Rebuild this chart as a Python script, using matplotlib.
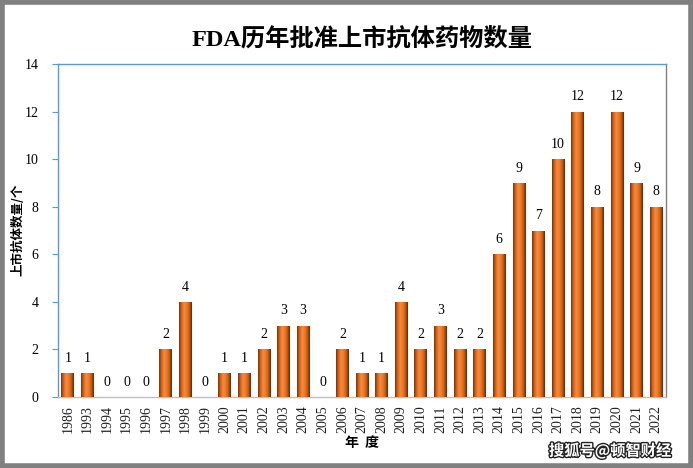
import matplotlib
matplotlib.use("Agg")
import matplotlib.pyplot as plt
import numpy as np
from matplotlib.colors import LinearSegmentedColormap
from matplotlib.patches import Rectangle
import matplotlib.patheffects as pe

years = ["1986", "1993", "1994", "1995", "1996", "1997", "1998", "1999", "2000", "2001",
         "2002", "2003", "2004", "2005", "2006", "2007", "2008", "2009", "2010", "2011",
         "2012", "2013", "2014", "2015", "2016", "2017", "2018", "2019", "2020", "2021", "2022"]
counts = [1, 1, 0, 0, 0, 2, 4, 0, 1, 1,
          2, 3, 3, 0, 2, 1, 1, 4, 2, 3,
          2, 2, 6, 9, 7, 10, 12, 8, 12, 9, 8]
yticks = [0, 2, 4, 6, 8, 10, 12, 14]

serif = ['Liberation Serif', 'Noto Sans CJK SC']
cjk = ['Noto Sans CJK SC', 'DejaVu Sans']

fig = plt.figure(figsize=(6.93, 4.68), dpi=100)
ax = fig.add_axes([58/693, 1-397/468, (666-58)/693, (397-64)/468])

x = np.arange(len(years))
bars = ax.bar(x, counts, width=0.65, color='#e07020', edgecolor='none', zorder=2)

cmap = LinearSegmentedColormap.from_list('bar', ['#7a3508', '#d8641c', '#f68c3c', '#ee7a28', '#c85c14', '#62290a'])
grad = np.linspace(0, 1, 64).reshape(1, -1)
for b in bars:
    h = b.get_height()
    if h <= 0:
        continue
    x0 = b.get_x()
    w = b.get_width()
    im = ax.imshow(grad, extent=[x0, x0 + w, 0, h], aspect='auto', cmap=cmap,
                   zorder=3, interpolation='bilinear')
    im.set_clip_path(b)

for xi, v in zip(x, counts):
    ax.text(xi, v + 0.35, str(v), ha='center', va='bottom', fontsize=10,
            family=serif, color='black', zorder=4)

ax.set_xlim(-0.5, len(years) - 0.5)
ax.set_ylim(0, 14)
ax.set_yticks(yticks)
ax.set_yticklabels([str(t) for t in yticks], family=serif, fontsize=10)
ax.set_xticks(x)
ax.set_xticklabels(years, rotation=90, family=serif, fontsize=10, color='#202020')
ax.tick_params(axis='x', length=0, pad=6)
ax.tick_params(axis='y', length=4, color='#5b9bd5', pad=10)

ax.spines['left'].set_color('#5b9bd5')
ax.spines['top'].set_color('#5b9bd5')
ax.spines['right'].set_color('#808080')
ax.spines['bottom'].set_color('#c0c0c0')
for s in ax.spines.values():
    s.set_linewidth(1)

fig.text(18 / 693, 1 - 230 / 468, '上市抗体数量/个', family=cjk, fontsize=9,
         fontweight='bold', rotation=90, ha='center', va='center')
fig.text((58 + 666) / 2 / 693, 1 - 443 / 468, '年  度', family=cjk, fontsize=10,
         fontweight='bold', ha='center', va='center')
fig.text((58 + 666) / 2 / 693, 1 - 40 / 468, 'FDA历年批准上市抗体药物数量', family=serif,
         fontsize=17.5, fontweight='bold', ha='center', va='center')

wm = fig.text(610 / 693, 1 - 451 / 468, '搜狐号@顿智财经', family=cjk, fontsize=11,
              fontweight='bold', color='white', ha='center', va='center')
wm.set_path_effects([pe.withStroke(linewidth=2, foreground='#222222')])

fig.patches.append(Rectangle((0.0025, 0.004), 0.995, 0.992, transform=fig.transFigure,
                             fill=False, edgecolor='#808080', linewidth=4, zorder=10))

fig.savefig('out.png', dpi=100)
